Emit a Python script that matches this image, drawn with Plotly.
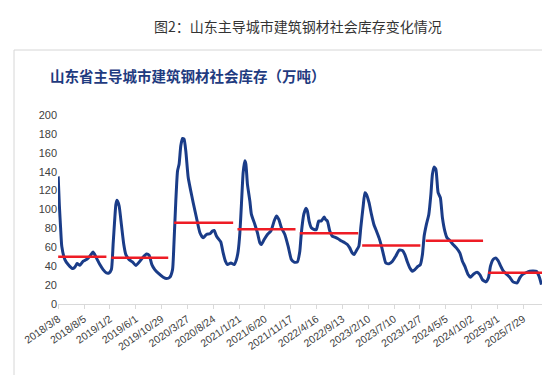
import plotly.graph_objects as go

# ---- data ----
dates = [
    "2018-03-08", "2018-03-15", "2018-03-22", "2018-03-29", "2018-04-16", "2018-05-05", "2018-05-30",
    "2018-06-13", "2018-06-26", "2018-07-12", "2018-07-31", "2018-08-19", "2018-09-08", "2018-09-27",
    "2018-10-16", "2018-11-05", "2018-11-24", "2018-12-13", "2018-12-29", "2019-01-11", "2019-01-21",
    "2019-01-31", "2019-02-06", "2019-02-13", "2019-02-25", "2019-03-10", "2019-03-24", "2019-04-05",
    "2019-04-24", "2019-05-13", "2019-06-02", "2019-06-21", "2019-07-10", "2019-08-03", "2019-08-18",
    "2019-09-03", "2019-09-20", "2019-10-15", "2019-11-08", "2019-11-27", "2019-12-16", "2020-01-01",
    "2020-01-09", "2020-01-20", "2020-01-30", "2020-02-08", "2020-02-18", "2020-02-28", "2020-03-08",
    "2020-03-18", "2020-04-01", "2020-04-14", "2020-04-30", "2020-05-19", "2020-06-08", "2020-06-27",
    "2020-07-16", "2020-08-05", "2020-08-20", "2020-08-30", "2020-09-12", "2020-09-26", "2020-10-07",
    "2020-10-21", "2020-11-03", "2020-11-15", "2020-12-05", "2020-12-24", "2021-01-06", "2021-01-16",
    "2021-01-26", "2021-02-04", "2021-02-14", "2021-02-24", "2021-03-02", "2021-03-11", "2021-03-25",
    "2021-04-03", "2021-04-23", "2021-05-08", "2021-05-22", "2021-05-31", "2021-06-16", "2021-07-05",
    "2021-07-25", "2021-08-13", "2021-08-26", "2021-09-09", "2021-09-24", "2021-10-14", "2021-11-02",
    "2021-11-21", "2021-12-07", "2021-12-26", "2022-01-09", "2022-01-18", "2022-02-01", "2022-02-13",
    "2022-02-22", "2022-03-04", "2022-03-17", "2022-04-02", "2022-04-15", "2022-04-29", "2022-05-14",
    "2022-05-30", "2022-06-07", "2022-06-18", "2022-07-02", "2022-07-16", "2022-07-31", "2022-08-19",
    "2022-09-08", "2022-09-27", "2022-10-12", "2022-10-26", "2022-11-09", "2022-11-20", "2022-12-04",
    "2022-12-18", "2022-12-29", "2023-01-12", "2023-01-22", "2023-01-31", "2023-02-15", "2023-03-01",
    "2023-03-15", "2023-03-30", "2023-04-14", "2023-04-28", "2023-05-12", "2023-05-23", "2023-06-11",
    "2023-07-01", "2023-07-20", "2023-08-09", "2023-08-28", "2023-09-11", "2023-09-24", "2023-10-10",
    "2023-10-25", "2023-11-08", "2023-11-27", "2023-12-10", "2023-12-22", "2024-01-01", "2024-01-14",
    "2024-01-28", "2024-02-09", "2024-02-18", "2024-02-28", "2024-03-09", "2024-03-22", "2024-04-04",
    "2024-04-16", "2024-04-30", "2024-05-13", "2024-05-29", "2024-06-17", "2024-07-06", "2024-07-26",
    "2024-08-10", "2024-08-24", "2024-09-12", "2024-09-25", "2024-10-15", "2024-11-03", "2024-11-19",
    "2024-12-04", "2024-12-24", "2025-01-08", "2025-01-20", "2025-02-04", "2025-02-20", "2025-03-05",
    "2025-03-19", "2025-04-03", "2025-04-22", "2025-05-12", "2025-05-31", "2025-06-24", "2025-07-09",
    "2025-07-24", "2025-09-05", "2025-10-14", "2025-10-29", "2025-11-12",
]
stock = [
    135, 104, 81, 61, 47, 41.7, 37.5,
    39, 42.8, 41, 45.3, 47, 50.6, 54.9,
    48.8, 41.7, 36.4, 32.9, 33, 36.4, 63,
    91.3, 105.4, 109.7, 103.7, 84.2, 63, 52.3,
    47, 44.6, 40.7, 44.3, 48.8, 53, 51.7,
    41.7, 36.4, 31.8, 28.3, 26.9, 28.3, 36.4,
    63, 109, 140.8, 147.9, 167.4, 175.2, 174.4,
    162, 133.8, 121.3, 107.2, 91.3, 75.4, 70,
    73.6, 74.3, 77.2, 77.8, 71.9, 68.3, 65.8,
    54.1, 45.3, 41.7, 43.5, 41.7, 47, 55.9,
    75.4, 105.4, 139, 151.5, 147.9, 126.6, 109,
    94.8, 84.2, 75.4, 64.8, 63, 68.3, 73.6,
    77.2, 87.8, 93.1, 89.5, 80.7, 73.6, 61.3,
    47, 44.3, 44.6, 55.9, 75.4, 94.8, 101.2,
    98.4, 87.8, 80.7, 78.9, 78.9, 87.8, 87.8,
    92, 89.5, 87.8, 77.2, 71.9, 70.8, 69,
    66.6, 64.8, 63, 59.4, 54.1, 52.3, 56.6,
    61.3, 80.7, 103.7, 117.8, 116, 107.2, 94.8,
    84.2, 77.2, 70, 61.3, 50.6, 43.5, 42.5,
    45.3, 50.6, 57, 56.6, 52.3, 45.3, 38.2,
    34.7, 36.4, 40, 41.7, 52.3, 71.9, 84.2,
    94.8, 116, 137.3, 145.1, 142.6, 117.8, 112.5,
    91.3, 77.2, 70, 67.2, 63, 59.4, 54.1,
    45.3, 40, 31.1, 28.3, 31.8, 33.6, 31.1,
    25.8, 23.4, 27.6, 40, 47, 48.8, 46,
    40.7, 35.4, 31.8, 28.3, 23.4, 22.3, 27.6,
    31.1, 34.7, 34.5, 29.4, 20.5,
]

# yearly average lines
avg_years = [2018, 2019, 2020, 2021, 2022, 2023, 2024, 2025]
avg_start = ["2018-03-08", "2019-01-11", "2020-01-10", "2021-01-12",
             "2022-01-09", "2023-01-06", "2024-01-10", "2025-01-06"]
avg_end = ["2018-12-13", "2019-12-07", "2020-12-18", "2021-12-15",
           "2022-12-14", "2023-12-10", "2024-12-08", "2025-11-16"]
avg_value = [50, 49, 86, 79, 75, 62, 67, 33]

tick_dates = ["2018-03-08", "2018-08-05", "2019-01-02", "2019-06-01", "2019-10-29",
              "2020-03-27", "2020-08-24", "2021-01-21", "2021-06-20", "2021-11-17",
              "2022-04-16", "2022-09-13", "2023-02-10", "2023-07-10", "2023-12-07",
              "2024-05-05", "2024-10-02", "2025-03-01", "2025-07-29"]
tick_labels = ["2018/3/8", "2018/8/5", "2019/1/2", "2019/6/1", "2019/10/29",
               "2020/3/27", "2020/8/24", "2021/1/21", "2021/6/20", "2021/11/17",
               "2022/4/16", "2022/9/13", "2023/2/10", "2023/7/10", "2023/12/7",
               "2024/5/5", "2024/10/2", "2025/3/1", "2025/7/29"]
y_ticks = [0, 20, 40, 60, 80, 100, 120, 140, 160, 180, 200]

fig = go.Figure()
fig.add_trace(go.Scatter(
    x=dates, y=stock, mode="lines",
    line=dict(color="#1A3C88", width=3, shape="spline", smoothing=0.5),
    showlegend=False, hoverinfo="x+y",
))
for yr, s, e, v in zip(avg_years, avg_start, avg_end, avg_value):
    fig.add_trace(go.Scatter(
        x=[s, e], y=[v, v], mode="lines", name=str(yr),
        line=dict(color="#EE1C25", width=2.5), showlegend=False,
    ))

# layout geometry (plot area: x 50..535, y 107..296)
L, R, T, B = 50, 15, 107, 79
PW, PH = 550 - L - R, 375 - T - B


def px(xp):
    return (xp - L) / PW


def py(yp):
    return (375 - B - yp) / PH


fig.update_layout(
    width=550, height=375,
    margin=dict(l=L, r=R, t=T, b=B),
    paper_bgcolor="white", plot_bgcolor="white",
    font=dict(family="Liberation Sans, Arial, sans-serif", color="#404040"),
    xaxis=dict(
        type="date", range=["2018-03-07", "2025-11-21"],
        tickmode="array", tickvals=tick_dates, ticktext=tick_labels,
        tickangle=-35, tickfont=dict(size=10.5, color="#404040"),
        showgrid=False, showline=True, linecolor="#D9D9D9", linewidth=1,
        ticks="outside", ticklen=4, tickcolor="#D9D9D9", zeroline=False,
    ),
    yaxis=dict(
        range=[0, 200], tickmode="array", tickvals=y_ticks,
        tickfont=dict(size=11, color="#404040"),
        showgrid=False, showline=False, zeroline=False, ticks="",
    ),
    shapes=[dict(
        type="rect", xref="paper", yref="paper",
        x0=px(6), x1=px(545), y0=py(372), y1=py(42),
        line=dict(color="#D6D6D6", width=1), fillcolor="rgba(0,0,0,0)", layer="below",
    )],
    annotations=[
        dict(text="图2：山东主导城市建筑钢材社会库存变化情况",
             xref="paper", yref="paper", x=px(290), y=py(18),
             xanchor="center", yanchor="middle", showarrow=False,
             font=dict(family="Noto Sans CJK SC", size=14, color="#333333")),
        dict(text="<b>山东省主导城市建筑钢材社会库存（万吨）</b>",
             xref="paper", yref="paper", x=px(40), y=py(67),
             xanchor="left", yanchor="middle", showarrow=False,
             font=dict(family="Noto Sans CJK SC", size=14.5, color="#1F3B80")),
    ],
)

fig.write_html("out.html")
